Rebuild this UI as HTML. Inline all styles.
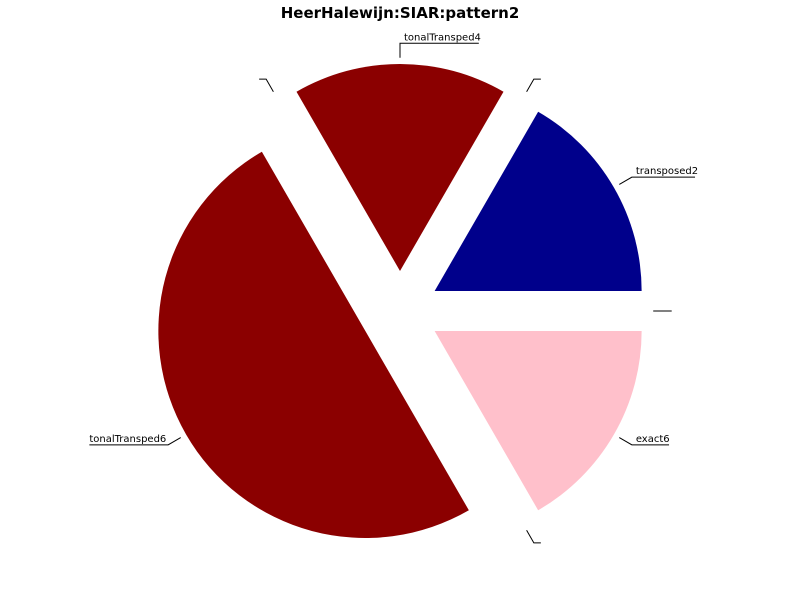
<!DOCTYPE html>
<html><head><meta charset="utf-8"><style>
body{margin:0;background:#fff;}
svg text{font-family:"DejaVu Sans","Liberation Sans",sans-serif;}
</style></head><body>
<svg id="chart" width="800" height="600" viewBox="0 0 800 600" xmlns="http://www.w3.org/2000/svg">
<rect width="800" height="600" fill="#fff"/>
<text x="400" y="18" text-anchor="middle" font-size="15" font-weight="bold">HeerHalewijn:SIAR:pattern2</text>
<g id="slices"></g>
</svg>
<script>
const labels = ["transposed2","","tonalTransped4","","tonalTransped6","","exact6",""];
const values = [1,0,1,0,3,0,1,0];
const colors = ["#00008b","#00008b","#8b0000","#8b0000","#8b0000","#ffc0cb","#ffc0cb","#ffc0cb"];
const cx=400, cy=311, R=207, EXP=40;
const g=document.getElementById('slices');
const NS="http://www.w3.org/2000/svg";
const total=values.reduce((a,b)=>a+b,0);
let a0=0;
values.forEach((v,i)=>{
  const sweep=v/total*360, a1=a0+sweep, mid=(a0+a1)/2*Math.PI/180;
  const ox=cx+EXP*Math.cos(mid), oy=cy-EXP*Math.sin(mid);
  const pt=(ang,r)=>[ox+r*Math.cos(ang*Math.PI/180), oy-r*Math.sin(ang*Math.PI/180)];
  if(v>0){
    const p0=pt(a0,R), p1=pt(a1,R);
    const path=document.createElementNS(NS,'path');
    path.setAttribute('d',`M${ox},${oy} L${p0[0]},${p0[1]} A${R},${R} 0 ${sweep>180?1:0} 0 ${p1[0]},${p1[1]} Z`);
    path.setAttribute('fill',colors[i]);
    
    
    g.appendChild(path);
  }
  const c=Math.cos(mid), s=Math.sin(mid);
  const q0=[ox+R*1.03*c, oy-R*1.03*s], q1=[ox+R*1.1*c, oy-R*1.1*s];
  const right = c>=-0.01;
  const tw = labels[i] ? labels[i].length*5.2+6 : 7;
  let x2 = right ? q1[0]+tw : q1[0]-tw;
  if(Math.abs(c)>0.99 && !labels[i]) x2 = q1[0]+(right?1:-1)*4;
  const line=document.createElementNS(NS,'polyline');
  line.setAttribute('points',`${q0[0]},${q0[1]} ${q1[0]},${q1[1]} ${x2},${q1[1]}`);
  line.setAttribute('fill','none');
  line.setAttribute('stroke','#000');
  line.setAttribute('stroke-width','1');
  
  
  g.appendChild(line);
  if(labels[i]){
    const t=document.createElementNS(NS,'text');
    t.setAttribute('x', right ? q1[0]+4 : x2);
    t.setAttribute('y', q1[1]-3);
    t.setAttribute('font-size','10');
    t.textContent=labels[i];
    
    
    g.appendChild(t);
  }
  a0=a1;
});
</script>
</body></html>
